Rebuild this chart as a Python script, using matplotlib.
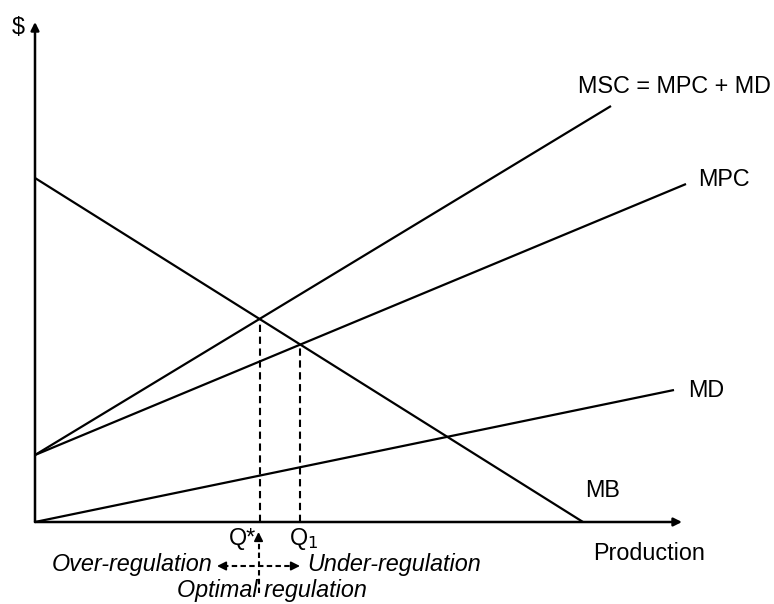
import matplotlib
matplotlib.use("Agg")
import matplotlib.pyplot as plt
import numpy as np

plt.rcParams["font.family"] = ["Liberation Sans", "DejaVu Sans"]

# curve end points (quantity, price) in chart units, origin at the axes corner
mb_q = [0, 548]
mb_p = [344, 0]
msc_q = [0, 576]
msc_p = [67, 416]
mpc_q = [0, 651]
mpc_p = [67, 338]
md_q = [0, 639]
md_p = [0, 132]

curve_labels = ["MSC = MPC + MD", "MPC", "MD", "MB"]
label_pos = [(543, 429), (663, 336), (653, 125), (550, 25)]

axis_top = 500
axis_right = 647


def intersect(q1, p1, q2, p2):
    a1 = (p1[1] - p1[0]) / (q1[1] - q1[0])
    a2 = (p2[1] - p2[0]) / (q2[1] - q2[0])
    q = (p2[0] - p1[0]) / (a1 - a2)
    return q, p1[0] + a1 * q


fig = plt.figure(figsize=(7.74, 6.04), dpi=100)
ax = fig.add_axes([0, 0, 1, 1])
ax.set_xlim(-35, 739)
ax.set_ylim(-82, 522)
ax.axis("off")

lw = 1.6
for q, p in [(mb_q, mb_p), (msc_q, msc_p), (mpc_q, mpc_p), (md_q, md_p)]:
    ax.plot(q, p, color="black", lw=lw, solid_capstyle="butt")

# axes with arrow heads
head = dict(arrowstyle="-|>", color="black", lw=1.8, mutation_scale=12,
            shrinkA=0, shrinkB=0)
ax.annotate("", xy=(0, axis_top), xytext=(0, 0), arrowprops=head)
ax.annotate("", xy=(axis_right, 0), xytext=(0, 0), arrowprops=head)

# dashed drop lines at the two equilibria
q_star, p_star = intersect(mb_q, mb_p, msc_q, msc_p)
q_one, p_one = intersect(mb_q, mb_p, mpc_q, mpc_p)
for q, p in [(q_star, p_star), (q_one, p_one)]:
    ax.plot([q, q], [0, p], color="black", lw=1.5, ls=(0, (3.5, 2.2)))

fs = 16.8
for text, (x, y) in zip(curve_labels, label_pos):
    ax.text(x, y, text, fontsize=fs, ha="left", va="baseline")
ax.text(-17, 495, "$", fontsize=fs, ha="center", va="center")
ax.text(558, -38, "Production", fontsize=fs, ha="left", va="baseline")
ax.text(q_star - 3, -23, "Q*", fontsize=fs, ha="right", va="baseline")
ax.text(254, -23, "Q$_1$", fontsize=fs, ha="left", va="baseline")

# regulation arrows
y_arr = -44
small = dict(arrowstyle="-|>", color="black", lw=1.3, mutation_scale=13,
             shrinkA=0, shrinkB=0)
dash = (0, (2.6, 1.6))
ax.plot([q_star - 1, q_star - 1], [-71, -16], color="black", lw=1.5, ls=dash)
ax.annotate("", xy=(q_star - 1, -10), xytext=(q_star - 1, -18),
            arrowprops=small)
ax.plot([188, 259], [y_arr, y_arr], color="black", lw=1.5, ls=dash)
ax.annotate("", xy=(182, y_arr), xytext=(190, y_arr), arrowprops=small)
ax.annotate("", xy=(265, y_arr), xytext=(257, y_arr), arrowprops=small)

ax.text(177, -49, "Over-regulation", fontsize=fs, style="italic",
        ha="right", va="baseline")
ax.text(272, -49, "Under-regulation", fontsize=fs, style="italic",
        ha="left", va="baseline")
ax.text(142, -75, "Optimal regulation", fontsize=fs, style="italic",
        ha="left", va="baseline")

fig.savefig("out.png", dpi=100)
